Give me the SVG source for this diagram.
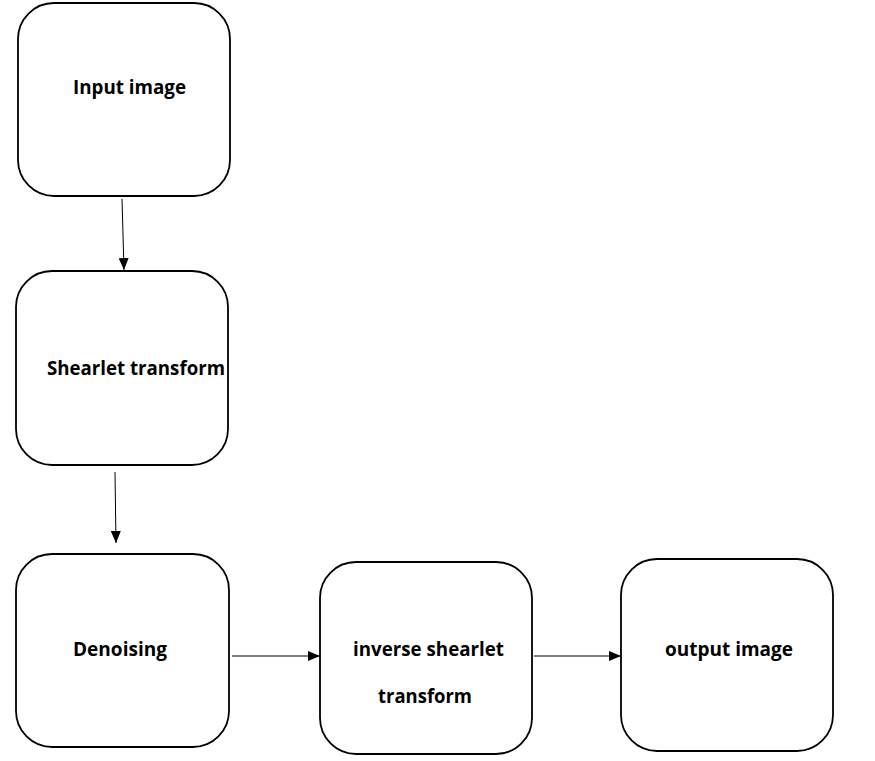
<svg xmlns="http://www.w3.org/2000/svg" width="875" height="761" viewBox="0 0 875 761">
<defs>
<style>
.box{fill:#fff;stroke:#000;stroke-width:1.8}
.lbl{font-family:"Open Sans","Liberation Sans",sans-serif;font-weight:bold;font-size:19px;fill:#000}
.con{stroke:#000;stroke-width:1;fill:none;marker-end:url(#ah)}
</style>
<marker id="ah" markerWidth="12" markerHeight="10" refX="12" refY="5" orient="auto" markerUnits="userSpaceOnUse">
<path d="M0,0 L12,5 L0,10 Z" fill="#000"/>
</marker>
</defs>
<rect width="875" height="761" fill="#fff"/>
<g id="connectors">
<line class="con" x1="122" y1="199" x2="124" y2="270"/>
<line class="con" x1="115" y1="472" x2="116" y2="543"/>
<line class="con" x1="232" y1="656" x2="320" y2="656"/>
<line class="con" x1="534" y1="656" x2="621" y2="656"/>
</g>
<g id="input">
<rect class="box" x="18" y="3" width="212" height="193" rx="36"/>
<text class="lbl" x="73" y="94" textLength="113" lengthAdjust="spacingAndGlyphs">Input image</text>
</g>
<g id="shearlet">
<rect class="box" x="16" y="271" width="212" height="194" rx="36"/>
<text class="lbl" x="47" y="375" textLength="178" lengthAdjust="spacingAndGlyphs">Shearlet transform</text>
</g>
<g id="denoising">
<rect class="box" x="16" y="554" width="213" height="193" rx="36"/>
<text class="lbl" x="73" y="656" textLength="94" lengthAdjust="spacingAndGlyphs">Denoising</text>
</g>
<g id="inverse">
<rect class="box" x="320" y="562" width="212" height="192" rx="36"/>
<text class="lbl" x="353" y="656" textLength="151" lengthAdjust="spacingAndGlyphs">inverse shearlet</text>
<text class="lbl" x="378" y="703" textLength="94" lengthAdjust="spacingAndGlyphs">transform</text>
</g>
<g id="output">
<rect class="box" x="621" y="559" width="212" height="192" rx="36"/>
<text class="lbl" x="665" y="656" textLength="128" lengthAdjust="spacingAndGlyphs">output image</text>
</g>
</svg>
